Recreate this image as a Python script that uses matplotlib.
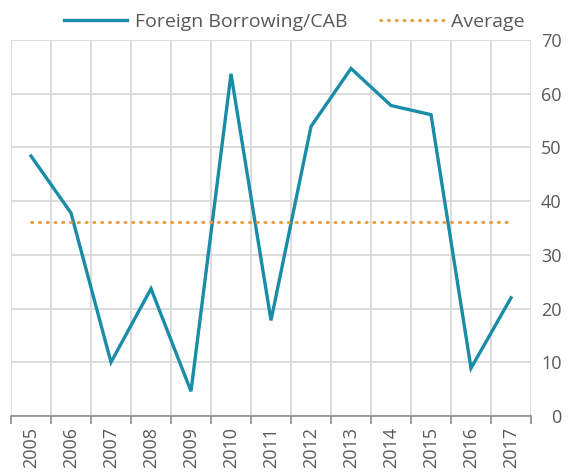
import matplotlib
matplotlib.use("Agg")
import matplotlib.pyplot as plt
import numpy as np

years = ["2005", "2006", "2007", "2008", "2009", "2010", "2011",
         "2012", "2013", "2014", "2015", "2016", "2017"]
foreign_borrowing_cab = [48.4, 37.8, 10.0, 23.7, 4.6, 63.7, 17.8,
                         53.9, 64.7, 57.8, 56.1, 8.9, 22.0]
average_value = 36.1
y_ticks = [0, 10, 20, 30, 40, 50, 60, 70]

plt.rcParams['font.family'] = ['Open Sans', 'DejaVu Sans']

fig = plt.figure(figsize=(5.77, 4.75), dpi=100)
ax = fig.add_axes([11/577, (475-416)/475, 520/577, 376/475])

x = np.arange(len(years))
ax.plot(x, foreign_borrowing_cab, color="#1a8ca8", lw=2.4,
        solid_joinstyle="miter", label="Foreign Borrowing/CAB", zorder=3)
ax.plot(x, [average_value]*len(years), color="#e89b3a", lw=2.0,
        linestyle=(0, (0.5, 2.3)), dash_capstyle="round",
        label="Average", zorder=3)

ax.set_xlim(-0.5, len(years) - 0.5)
ax.set_ylim(0, 70)

grid_c = "#d9d9d9"
ax.set_xticks(x)
ax.set_xticklabels(years, rotation=90, color="#595959", fontsize=13)
ax.set_xticks(np.arange(-0.5, len(years)), minor=True)
ax.tick_params(axis="x", which="major", length=0, pad=8)
ax.tick_params(axis="x", which="minor", length=6, width=1.2, color="#8c8c8c",
               direction="out")
ax.grid(axis="x", which="minor", color=grid_c, lw=1.3)

ax.yaxis.tick_right()
ax.set_yticks(y_ticks)
ax.set_yticklabels([str(v) for v in y_ticks], color="#595959", fontsize=13,
                   ha="right")
ax.tick_params(axis="y", length=0, pad=22)
ax.grid(axis="y", which="major", color=grid_c, lw=1.3)
ax.set_axisbelow(True)

for side in ["top", "left", "right"]:
    ax.spines[side].set_visible(False)
ax.spines["bottom"].set_color("#8c8c8c")
ax.spines["bottom"].set_linewidth(1.2)

leg = ax.legend(loc="center", bbox_to_anchor=(0.545, 1.048), ncol=2,
                frameon=False, fontsize=14, handlelength=3.25,
                columnspacing=1.7, handletextpad=0.4)
for t in leg.get_texts():
    t.set_color("#595959")

fig.savefig("out.png", dpi=100)
